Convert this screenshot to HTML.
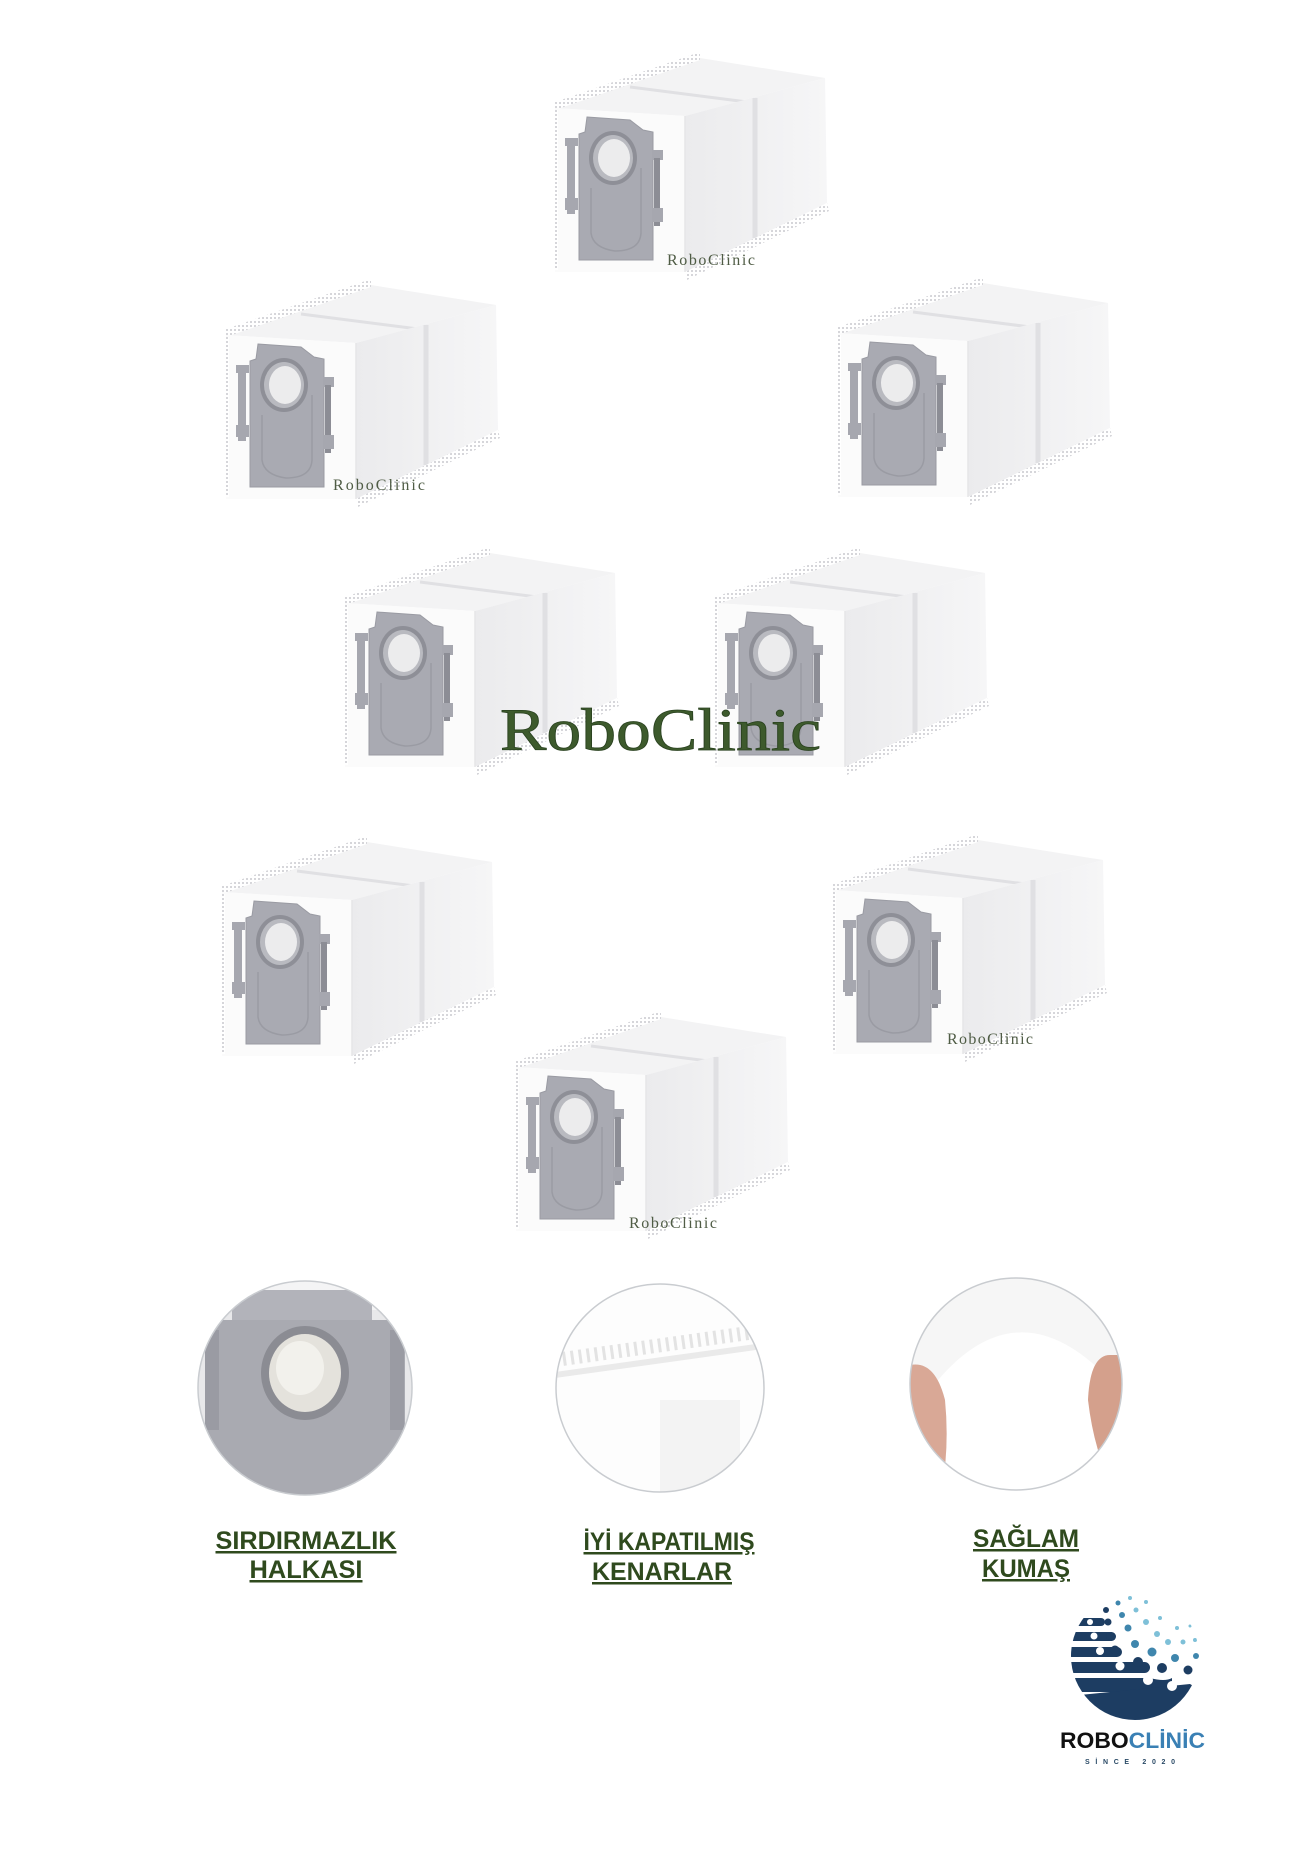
<!DOCTYPE html>
<html><head><meta charset="utf-8"><style>html,body{margin:0;padding:0;background:#fff}svg{display:block}</style></head>
<body>
<svg width="1291" height="1850" viewBox="0 0 1291 1850" xmlns="http://www.w3.org/2000/svg">
<defs>
<linearGradient id="side" x1="0" x2="1" y1="0" y2="0"><stop offset="0" stop-color="#ebebed"/><stop offset="1" stop-color="#f6f6f7"/></linearGradient>
<pattern id="st" width="4" height="4" patternUnits="userSpaceOnUse"><rect width="4" height="4" fill="#fff"/><rect width="2" height="2" fill="#d6d6da"/></pattern>
<g id="bag">
  <polygon points="0,50 145,0 270,20 130,58" fill="#f3f3f4"/>
  <polygon points="0,44 145,-6 145,2 0,52" fill="url(#st)"/>
  <line x1="75" y1="29" x2="200" y2="45" stroke="#e0e0e3" stroke-width="3"/>
  <polygon points="130,58 270,20 272,145 130,214" fill="url(#side)"/>
  <line x1="200" y1="40" x2="200" y2="180" stroke="#e0e0e3" stroke-width="5"/>
  <polygon points="130,214 272,145 274,153 132,222" fill="url(#st)"/>
  <polygon points="0,50 130,58 130,214 0,214" fill="#fbfbfb"/>
  <line x1="130" y1="58" x2="130" y2="214" stroke="#e6e6e8" stroke-width="1.5"/>
  <rect x="-2" y="52" width="5" height="160" fill="url(#st)"/>
  <path d="M32,59 L75,62 L88,72 L98,74 L98,202 L24,202 L24,76 L30,74 Z" fill="#a9aab2" stroke="#9a9ba3" stroke-width="1"/>
  <path d="M36,130 L36,175 Q38,190 60,193 Q85,193 86,175 L86,110" fill="none" stroke="#9a9ba3" stroke-width="1.5"/>
  <rect x="10" y="80" width="13" height="8" fill="#a6a7af"/>
  <rect x="12" y="88" width="8" height="68" fill="#a6a7af"/>
  <rect x="10" y="140" width="13" height="12" fill="#a6a7af"/>
  <rect x="97" y="92" width="11" height="10" fill="#a6a7af"/>
  <rect x="99" y="100" width="6" height="68" fill="#8c8d95"/>
  <rect x="97" y="150" width="11" height="14" fill="#a6a7af"/>
  <ellipse cx="58" cy="100" rx="24" ry="27" fill="#8e8f97"/>
  <ellipse cx="58" cy="100" rx="20" ry="23" fill="#b9bac0"/>
  <ellipse cx="59" cy="100" rx="16" ry="19" fill="#ececed"/>
</g>
<clipPath id="gc"><circle cx="1135" cy="1656" r="64"/></clipPath>
<clipPath id="c1"><circle cx="305" cy="1388" r="107"/></clipPath>
<clipPath id="c2"><circle cx="660" cy="1388" r="104"/></clipPath>
<clipPath id="c3"><circle cx="1016" cy="1384" r="106"/></clipPath>
</defs>

<use href="#bag" x="555" y="58"/>
<use href="#bag" x="226" y="285"/>
<use href="#bag" x="838" y="283"/>
<use href="#bag" x="345" y="553"/>
<use href="#bag" x="715" y="553"/>
<use href="#bag" x="222" y="842"/>
<use href="#bag" x="833" y="840"/>
<use href="#bag" x="516" y="1017"/>

<g font-family="'Liberation Serif',serif" fill="#4f5c45" font-size="16">
<text x="667" y="265" textLength="88">RoboClinic</text>
<text x="333" y="490" textLength="92">RoboClinic</text>
<text x="947" y="1044" textLength="86">RoboClinic</text>
<text x="629" y="1228" textLength="88">RoboClinic</text>
</g>
<text x="500" y="750" font-family="'Liberation Serif',serif" font-size="60" fill="#3d5a2c" stroke="#2a4220" stroke-width="0.8" textLength="321" lengthAdjust="spacingAndGlyphs">RoboClinic</text>

<g clip-path="url(#c1)">
  <rect x="190" y="1270" width="230" height="240" fill="#e8e8ea"/>
  <rect x="190" y="1280" width="230" height="30" fill="#f4f4f5"/>
  <rect x="232" y="1290" width="140" height="40" fill="#b2b3ba"/>
  <rect x="205" y="1320" width="200" height="200" fill="#a9aab1"/>
  <rect x="205" y="1330" width="14" height="100" fill="#9a9ba3"/>
  <rect x="390" y="1330" width="14" height="100" fill="#9a9ba3"/>
  <ellipse cx="305" cy="1373" rx="44" ry="47" fill="#8b8c93"/>
  <ellipse cx="305" cy="1373" rx="36" ry="39" fill="#e4e2dc"/>
  <ellipse cx="300" cy="1368" rx="24" ry="27" fill="#f2f1ec"/>
</g>
<circle cx="305" cy="1388" r="107" fill="none" stroke="#c9ccd0" stroke-width="1.5"/>
<g clip-path="url(#c2)">
  <rect x="550" y="1280" width="220" height="220" fill="#fdfdfd"/>
  <path d="M555,1360 L770,1330" stroke="#e3e3e3" stroke-width="14" stroke-dasharray="3 5"/>
  <path d="M555,1375 L770,1345" stroke="#eaeaea" stroke-width="6"/>
  <rect x="660" y="1400" width="80" height="100" fill="#f3f3f3"/>
</g>
<circle cx="660" cy="1388" r="104" fill="none" stroke="#c9ccd0" stroke-width="1.5"/>
<g clip-path="url(#c3)">
  <rect x="905" y="1275" width="225" height="225" fill="#f6f6f6"/>
  <path d="M930,1390 Q1015,1280 1110,1380 L1110,1500 L930,1500 Z" fill="#fff"/>
  <path d="M910,1365 Q935,1360 945,1400 Q950,1450 940,1500 L905,1500 Z" fill="#d9a896"/>
  <path d="M1110,1355 Q1090,1355 1088,1400 Q1095,1460 1120,1500 L1125,1355 Z" fill="#d4a08c"/>
</g>
<circle cx="1016" cy="1384" r="106" fill="none" stroke="#c9ccd0" stroke-width="1.5"/>

<g font-family="'Liberation Sans Narrow','Liberation Sans',sans-serif" font-weight="bold" font-size="25" fill="#2f4a1e" text-anchor="middle" text-decoration="underline">
<text x="306" y="1549" textLength="181" lengthAdjust="spacingAndGlyphs">SIRDIRMAZLIK</text>
<text x="306" y="1578" textLength="113" lengthAdjust="spacingAndGlyphs">HALKASI</text>
<text x="669" y="1550" textLength="171" lengthAdjust="spacingAndGlyphs">İYİ KAPATILMIŞ</text>
<text x="662" y="1580" textLength="140" lengthAdjust="spacingAndGlyphs">KENARLAR</text>
<text x="1026" y="1547" textLength="106" lengthAdjust="spacingAndGlyphs">SAĞLAM</text>
<text x="1026" y="1577" textLength="88" lengthAdjust="spacingAndGlyphs">KUMAŞ</text>
</g>

<g clip-path="url(#gc)">
  <g fill="#1d3d62">
    <rect x="1060" y="1618" width="45" height="8" rx="4"/>
    <rect x="1060" y="1632" width="56" height="9" rx="4.5"/>
    <rect x="1060" y="1647" width="62" height="10" rx="5"/>
    <rect x="1060" y="1662" width="90" height="11" rx="5.5"/>
    <path d="M1060,1678 L1150,1678 Q1165,1682 1172,1678 L1172,1692 L1060,1692 Z"/>
    <path d="M1070,1696 L1190,1684 L1200,1690 L1195,1720 L1070,1720 Z"/>
  </g>
  <g fill="#fff"><circle cx="1090" cy="1622" r="3"/><circle cx="1094" cy="1636" r="3.5"/><circle cx="1100" cy="1651" r="4"/><circle cx="1120" cy="1666" r="4.5"/><circle cx="1148" cy="1680" r="5"/><circle cx="1172" cy="1686" r="5"/></g>
  <g fill="#1d3d62"><circle cx="1106" cy="1610" r="3"/><circle cx="1108" cy="1622" r="3.5"/><circle cx="1110" cy="1636" r="4"/><circle cx="1115" cy="1650" r="4.5"/><circle cx="1138" cy="1662" r="5"/><circle cx="1162" cy="1668" r="5"/><circle cx="1188" cy="1670" r="4.5"/></g>
  <g fill="#3f86ad"><circle cx="1118" cy="1603" r="2.5"/><circle cx="1122" cy="1615" r="3"/><circle cx="1128" cy="1628" r="3.5"/><circle cx="1135" cy="1644" r="4"/><circle cx="1152" cy="1652" r="4.5"/><circle cx="1175" cy="1658" r="4"/><circle cx="1196" cy="1656" r="3"/></g>
  <g fill="#7ec0d8"><circle cx="1130" cy="1598" r="2"/><circle cx="1136" cy="1610" r="2.5"/><circle cx="1146" cy="1622" r="3"/><circle cx="1157" cy="1634" r="3"/><circle cx="1168" cy="1642" r="3"/><circle cx="1183" cy="1642" r="2.5"/><circle cx="1195" cy="1640" r="2"/><circle cx="1146" cy="1602" r="2"/><circle cx="1160" cy="1618" r="2"/><circle cx="1177" cy="1628" r="2"/><circle cx="1190" cy="1626" r="1.5"/></g>
</g>
<text x="1060" y="1748" font-family="'Liberation Sans',sans-serif" font-weight="bold" font-size="22" textLength="145" lengthAdjust="spacingAndGlyphs"><tspan fill="#111">ROBO</tspan><tspan fill="#3a80b4">CLİNİC</tspan></text>
<text x="1085" y="1764" font-family="'Liberation Sans',sans-serif" font-weight="bold" font-size="7" fill="#2a4a66" textLength="90">SİNCE 2020</text>
</svg>
</body></html>
